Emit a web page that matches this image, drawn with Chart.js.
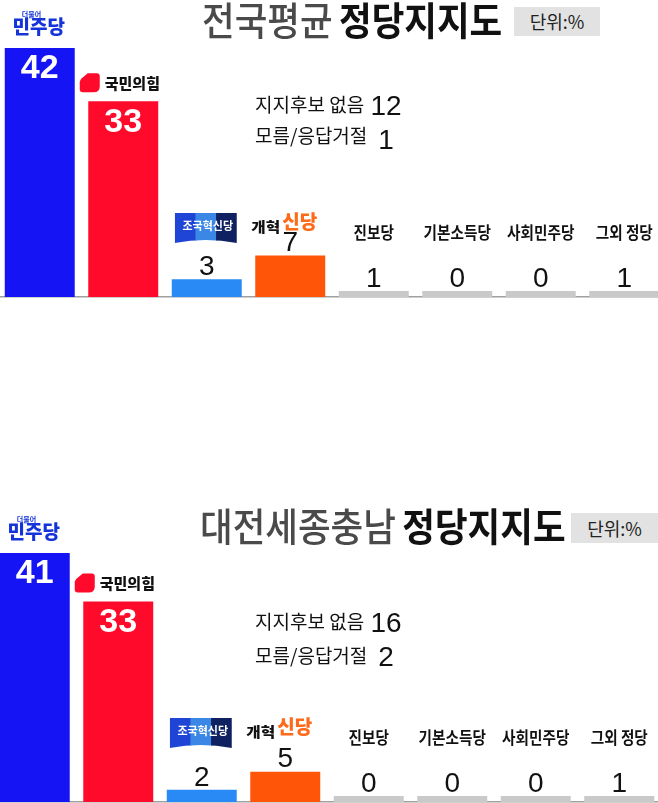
<!DOCTYPE html>
<html><head><meta charset="utf-8">
<script src="https://cdn.jsdelivr.net/npm/chart.js@4.4.1/dist/chart.umd.min.js"></script>
<style>
html,body{margin:0;padding:0;width:658px;height:803px;overflow:hidden;background:#fff;}
.abs{position:absolute;}
.title{font-family:"Noto Sans CJK KR","Noto Sans",sans-serif;font-size:39px;line-height:1;white-space:nowrap;transform-origin:0 0;transform:scaleX(0.91);}
.title .g{color:#4a4a4a;font-weight:500;}
.title .b{color:#111;font-weight:700;margin-left:7px;}
.unit{background:#e2e2e2;font-family:"Noto Sans CJK KR",sans-serif;font-size:18px;color:#222;text-align:center;}
.note{font-family:"Noto Sans CJK KR",sans-serif;font-size:19px;color:#111;white-space:nowrap;line-height:1;}
.num{font-family:"Liberation Sans Narrow","Liberation Sans",sans-serif;font-size:28px;color:#111;text-align:center;width:50px;line-height:1;}
</style></head><body>
<div class="abs" style="left:-2px;top:0;width:668px;height:300px"><canvas id="c1"></canvas></div>
<div class="abs" style="left:-7px;top:500px;width:668px;height:303px"><canvas id="c2"></canvas></div>
<div id="overlay"></div>
<script>
// ---- data ----
const parties = ['더불어민주당','국민의힘','조국혁신당','개혁신당','진보당','기본소득당','사회민주당','그외 정당'];
const nationalValues = [42,33,3,7,1,0,0,1];
const regionalValues = [41,33,2,5,0,0,0,1];
const otherLabels = ['지지후보 없음','모름/응답거절'];
const nationalOthers = [12,1];
const regionalOthers = [16,2];
const nationalTitle = ['전국평균','정당지지도'];
const regionalTitle = ['대전세종충남','정당지지도'];
const unitLabel = '단위:%';
// ---- styles ----
const partyColors = ['#1414f5','#ff0a2b','#2a8af5','#ff5508','#c9c9c9','#c9c9c9','#c9c9c9','#c9c9c9'];

function drawLogo(ctx, name, x, top, baseY) {
  ctx.save();
  ctx.textBaseline = 'middle';
  if (name === '더불어민주당') {
    ctx.fillStyle = '#1433d9';
    ctx.font = 'bold 7px "Noto Sans CJK KR"';
    ctx.textAlign = 'left';
    ctx.fillText('더불어', x - 18, top - 34);
    ctx.font = '900 19px "Noto Sans CJK KR"';
    ctx.textAlign = 'center';
    ctx.fillText('민주당', x - 1, top - 21);
  } else if (name === '국민의힘') {
    const L = x - 43.5, T = top - 28, R = L + 20, B = T + 19;
    ctx.fillStyle = '#ff0a2b';
    ctx.beginPath();
    ctx.moveTo(L + 8, T);
    ctx.lineTo(R - 3, T);
    ctx.quadraticCurveTo(R, T, R, T + 3);
    ctx.lineTo(R, B - 6);
    ctx.quadraticCurveTo(R, B, R - 6, B);
    ctx.lineTo(L + 3, B);
    ctx.quadraticCurveTo(L, B, L, B - 3);
    ctx.lineTo(L, T + 9);
    ctx.quadraticCurveTo(L, T + 7, L + 2, T + 5);
    ctx.closePath();
    ctx.fill();
    ctx.fillStyle = '#111';
    ctx.font = '900 15px "Noto Sans CJK KR"';
    ctx.textAlign = 'left';
    ctx.fillText('국민의힘', x - 18.5, top - 18);
  } else if (name === '조국혁신당') {
    const L = x - 32, W = 62, T = baseY - 84, H = 30;
    const bands = ['#1f45d6', '#3a87e6', '#0f2160'];
    ctx.save();
    ctx.beginPath();
    ctx.moveTo(L, T);
    ctx.lineTo(L + W, T);
    ctx.lineTo(L + W, T + H);
    ctx.quadraticCurveTo(L + W / 2, T + H - 6, L, T + H);
    ctx.closePath();
    ctx.clip();
    bands.forEach((c, k) => { ctx.fillStyle = c; ctx.fillRect(L + k * W / 3, T, W / 3 + 1, H); });
    ctx.restore();
    ctx.fillStyle = '#fff';
    ctx.font = 'bold 11px "Noto Sans CJK KR"';
    ctx.textAlign = 'center';
    ctx.fillText('조국혁신당', x + 1, baseY - 71);
  } else if (name === '개혁신당') {
    ctx.textAlign = 'left';
    ctx.fillStyle = '#111';
    ctx.font = '900 15px "Noto Sans CJK KR"';
    ctx.save();
    ctx.translate(x - 39, baseY - 70);
    ctx.scale(1.05, 0.9);
    ctx.fillText('개혁', 0, 0);
    ctx.restore();
    ctx.fillStyle = '#ff6a1a';
    ctx.font = '900 19px "Noto Sans CJK KR"';
    ctx.fillText('신당', x - 8, baseY - 75);
  } else {
    ctx.fillStyle = '#111';
    ctx.font = 'bold 17px "Noto Sans CJK KR"';
    ctx.textAlign = 'center';
    ctx.translate(x, baseY - 64);
    ctx.scale(0.86, 1);
    ctx.fillText(name, 0, 0);
  }
  ctx.restore();
}

const labelPlugin = {
  id: 'partyLabels',
  afterDatasetsDraw(chart) {
    const ctx = chart.ctx;
    const meta = chart.getDatasetMeta(0);
    const values = chart.data.datasets[0].data;
    const baseY = chart.chartArea.bottom;
    meta.data.forEach((el, i) => {
      const p = el.getProps(['x', 'y', 'base'], true);
      const h = p.base - p.y;
      ctx.save();
      ctx.textAlign = 'center';
      ctx.textBaseline = 'middle';
      if (h > 60) {
        ctx.fillStyle = '#fff';
        ctx.font = 'bold 34px "Liberation Sans", Arial, sans-serif';
        ctx.fillText(String(values[i]), p.x, p.y + 21);
      } else {
        ctx.fillStyle = '#111';
        ctx.font = '28px "Liberation Sans Narrow", "Liberation Sans", sans-serif';
        ctx.fillText(String(values[i]), p.x, p.y - 12);
      }
      ctx.restore();
      drawLogo(ctx, chart.data.labels[i], p.x, p.y, baseY);
    });
  }
};

function makeChart(id, values, padTop, padBottom) {
  return new Chart(document.getElementById(id), {
    type: 'bar',
    data: {
      labels: parties,
      datasets: [{
        data: values,
        backgroundColor: partyColors,
        borderWidth: 0,
        barPercentage: 0.838,
        categoryPercentage: 1,
        minBarLength: 6
      }]
    },
    options: {
      responsive: true,
      maintainAspectRatio: false,
      animation: false,
      layout: { padding: { top: padTop, bottom: padBottom, left: 0, right: 0 } },
      plugins: { legend: { display: false }, tooltip: { enabled: false } },
      scales: {
        x: {
          grid: { display: false, drawTicks: false },
          ticks: { display: false },
          border: { display: true, color: '#a0a0a0', width: 1.5 }
        },
        y: { display: false, min: 0, max: Math.max(...values) }
      }
    },
    plugins: [labelPlugin]
  });
}

makeChart('c1', nationalValues, 48, 3);
makeChart('c2', regionalValues, 53, 1);

// ---- text overlays ----
function addHTML(html) {
  const d = document.createElement('div');
  d.innerHTML = html;
  document.getElementById('overlay').appendChild(d.firstElementChild);
}
function panelText(title, others, o) {
  addHTML(`<div class="abs title" style="left:${o.titleX}px;top:${o.titleY}px"><span class="g">${title[0]}</span><span class="b">${title[1]}</span></div>`);
  addHTML(`<div class="abs unit" style="left:${o.unitX}px;top:${o.unitY}px;width:${o.unitW}px;height:${o.unitH}px;line-height:${o.unitH}px">${unitLabel}</div>`);
  otherLabels.forEach((lab, k) => {
    addHTML(`<div class="abs note" style="left:255px;top:${o.noteY[k]}px">${lab}</div>`);
    addHTML(`<div class="abs num" style="left:361px;top:${o.numY[k]}px">${others[k]}</div>`);
  });
}
panelText(nationalTitle, nationalOthers, {titleX:202,titleY:-1,unitX:514,unitY:7,unitW:86,unitH:29,noteY:[94,125],numY:[92,126]});
panelText(regionalTitle, regionalOthers, {titleX:200,titleY:505,unitX:571,unitY:513,unitW:87,unitH:30,noteY:[611,645],numY:[609,643]});
</script>
</body></html>
